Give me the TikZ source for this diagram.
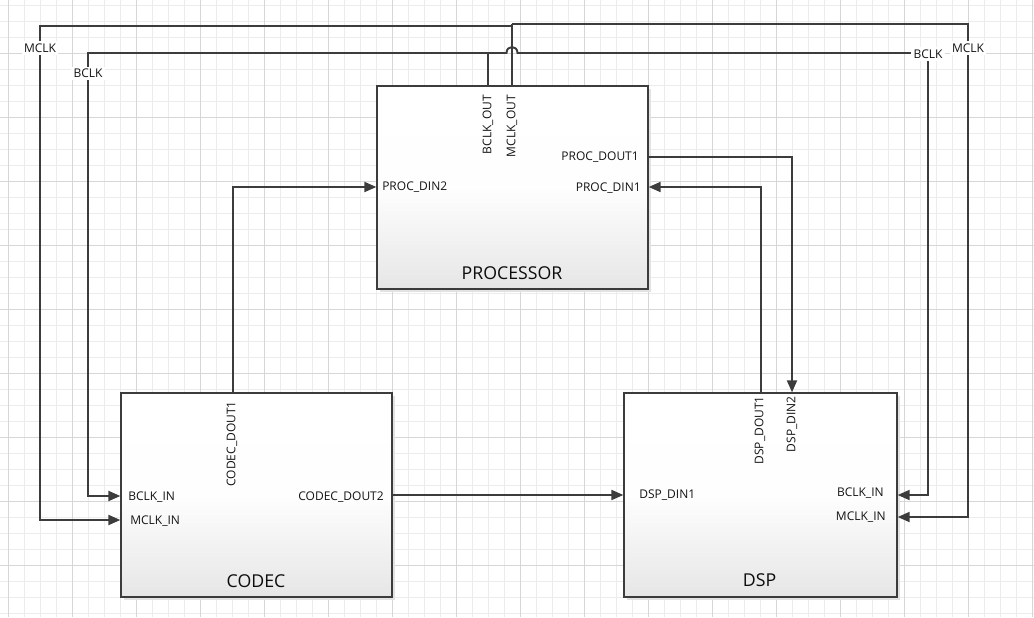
\documentclass[tikz,border=0pt]{standalone}
\usepackage{fontspec}
\setmainfont{Open Sans}
\usetikzlibrary{arrows.meta,shadows}
\definecolor{ln}{RGB}{60,60,60}
\definecolor{gminor}{RGB}{236,236,236}
\definecolor{gmajor}{RGB}{214,214,214}
\definecolor{shd}{RGB}{226,226,226}
\definecolor{boxbot}{RGB}{230,230,230}
\tikzset{
  gridminor/.style={draw=gminor, line width=0.75pt},
  gridmajor/.style={draw=gmajor, line width=0.75pt},
  block/.style={draw=ln, line width=1pt, top color=white, bottom color=boxbot,
     middle color=white!96!boxbot,
     drop shadow={shadow xshift=2.2pt, shadow yshift=-2.2pt, fill=shd, opacity=1},
     inner sep=0pt},
  conn/.style={draw=ln, line width=1.45pt},
  tip/.style={-{Triangle[length=9pt,width=7.5pt]}},
  port/.style={font=\fontsize{9}{10}\selectfont, text=black!92, inner sep=0pt},
  vport/.style={port, rotate=90, anchor=east},
  title/.style={font=\fontsize{13.3}{15}\selectfont, text=black!95, inner sep=0pt},
  clk/.style={font=\fontsize{9}{10}\selectfont, text=black!92, fill=white, inner sep=1.8pt}
}
\begin{document}
\begin{tikzpicture}[x=0.75pt,y=-0.75pt]
\useasboundingbox (0,0) rectangle (1034,617);
% grid
\foreach \i in {0,...,64} \draw[gridminor] (8.3+16*\i,0) -- (8.3+16*\i,617);
\foreach \j in {0,...,38} \draw[gridminor] (0,5.3+16*\j) -- (1034,5.3+16*\j);
\foreach \i in {0,...,16} \draw[gridmajor] (8.3+64*\i,0) -- (8.3+64*\i,617);
\foreach \j in {0,...,8} \draw[gridmajor] (0,53.3+64*\j) -- (1034,53.3+64*\j);

% blocks
\node[block, minimum width={271*0.75pt}, minimum height={203*0.75pt}] (proc) at (512.5,187.5) {};
\node[block, minimum width={271*0.75pt}, minimum height={204*0.75pt}] (codec) at (256.5,495) {};
\node[block, minimum width={273*0.75pt}, minimum height={204*0.75pt}] (dsp) at (760.5,495) {};

\node[title] (tproc) at (512,273) {PROCESSOR};
\node[title] (tcodec) at (256,581) {CODEC};
\node[title] (tdsp) at (759.5,580) {DSP};

% port labels
\node[vport] (lbclkout) at (488,95) {BCLK\_OUT};
\node[vport] (lmclkout) at (512,95) {MCLK\_OUT};
\node[port, anchor=east] (lpdout1) at (639,157) {PROC\_DOUT1};
\node[port, anchor=east] (lpdin1) at (641,188) {PROC\_DIN1};
\node[port, anchor=west] (lpdin2) at (382,187) {PROC\_DIN2};
\node[vport] (lcdout1) at (232,401) {CODEC\_DOUT1};
\node[port, anchor=west] (lcbclk) at (128,497) {BCLK\_IN};
\node[port, anchor=west] (lcmclk) at (130,521) {MCLK\_IN};
\node[port, anchor=east] (lcdout2) at (384,497) {CODEC\_DOUT2};
\node[vport] (lddout1) at (760,396) {DSP\_DOUT1};
\node[vport] (lddin2) at (792,396) {DSP\_DIN2};
\node[port, anchor=west] (lddin1) at (639,495) {DSP\_DIN1};
\node[port, anchor=east] (ldbclk) at (884,493) {BCLK\_IN};
\node[port, anchor=east] (ldmclk) at (886,517) {MCLK\_IN};

% port coordinates
\coordinate (bclkout) at (proc.north -| 488,0);
\coordinate (mclkout) at (proc.north -| 512,0);
\coordinate (pdout1) at (proc.east |- 0,157);
\coordinate (pdin1) at (proc.east |- 0,187);
\coordinate (pdin2) at (proc.west |- 0,187);
\coordinate (cdout1) at (codec.north -| 233,0);
\coordinate (cdout2) at (codec.east |- 0,495);
\coordinate (cbclk) at (codec.west |- 0,496);
\coordinate (cmclk) at (codec.west |- 0,520);
\coordinate (ddout1) at (dsp.north -| 761,0);
\coordinate (ddin2) at (dsp.north -| 792,0);
\coordinate (ddin1) at (dsp.west |- 0,495);
\coordinate (dbclk) at (dsp.east |- 0,495);
\coordinate (dmclk) at (dsp.east |- 0,517);
% routing points
\coordinate (bj) at (488,53);
\coordinate (bl) at (88,53);
\coordinate (br) at (928,53);
\coordinate (mjl) at (512,26);
\coordinate (mjr) at (512,24);
\coordinate (ml) at (40,26);
\coordinate (mr) at (968,24);

% data connectors
\draw[conn,tip] (cdout1) |- (pdin2);
\draw[conn,tip] (pdout1) -| (ddin2);
\draw[conn,tip] (ddout1) |- (pdin1);
\draw[conn,tip] (cdout2) -- (ddin1);

% MCLK
\draw[conn] (mclkout) -- (mjr);
\draw[conn,tip] (mjl) -- (ml) |- (cmclk);
\draw[conn,tip] (mjr) -- (mr) |- (dmclk);
% BCLK
\draw[conn] (bclkout) -- (bj);
\draw[conn,tip] (bj) -- (bl) |- (cbclk);
\draw[conn,tip] (bj) -- (506.5,53) .. controls (506.5,45) and (517.5,45) .. (517.5,53) -- (br) |- (dbclk);

% clock labels
\node[clk] (lml) at (40,48) {MCLK};
\node[clk] (lbl) at (88,73.5) {BCLK};
\node[clk] (lbr) at (928,54) {BCLK};
\node[clk] (lmr) at (968,48) {MCLK};
\end{tikzpicture}
\end{document}
